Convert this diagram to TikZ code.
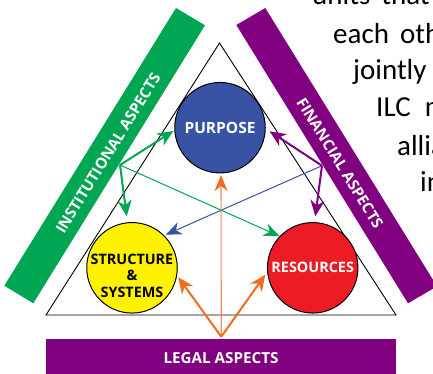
\documentclass[tikz,border=0pt]{standalone}
\usepackage{fontspec}
\setmainfont{Open Sans}
\newfontfamily\bodyfont{Carlito}
\usetikzlibrary{arrows.meta}
\definecolor{bandgreen}{HTML}{00A651}
\definecolor{bandpurple}{HTML}{800080}
\definecolor{discblue}{HTML}{3953A4}
\definecolor{discyellow}{HTML}{FFF200}
\definecolor{discred}{HTML}{ED1C24}
\definecolor{arroworange}{HTML}{F26B22}
\definecolor{thinorange}{HTML}{F58B5A}
\tikzset{
  x=1pt,y=-1pt,
  disc/.style={circle,draw=black,line width=1pt,minimum size=90.5pt,inner sep=0pt,font=\bfseries\fontsize{14.4}{16.5}\selectfont,align=center},
  bandtext/.style={text=white,font=\bfseries\fontsize{15.2}{17}\selectfont,inner sep=0pt},
  bodytext/.style={anchor=base west,inner sep=0pt,font=\fontsize{29}{34}\selectfont\bodyfont,text=black},
  thick arrow/.style={line width=2pt,-{Stealth[length=16pt,width=14pt,inset=5pt]}},
  thin arrow/.style={line width=1pt,-{Stealth[length=16pt,width=13pt,inset=5pt]}},
}
\begin{document}
\begin{tikzpicture}
\useasboundingbox (0,0) rectangle (433,374);
\begin{scope}
\clip (0,0) rectangle (433,374);
\node[bodytext] (l1) at (312,5) {units\hspace{11pt}that\hspace{11pt}a};
\node[bodytext] (l2) at (333,44) {each\hspace{11pt}other};
\node[bodytext] (l3) at (353,80) {jointly};
\node[bodytext] (l4) at (376,117) {ILC\hspace{14pt}n};
\node[bodytext] (l5) at (397,156) {allia};
\node[bodytext] (l6) at (420,191) {in};
\fill[bandgreen] (176,8) -- (205,25.3) -- (33.3,303.3) -- (4.3,285.7) -- cycle;
\fill[bandpurple] (236.3,25) -- (265.3,8) -- (437,286.3) -- (408,303.3) -- cycle;
\end{scope}
\fill[bandpurple] (46,339) rectangle (396,374);
\node[bandtext,rotate=58.3] (inst) at (108,153) {INSTITUTIONAL ASPECTS};
\node[bandtext,rotate=-58.3] (fin) at (340,163) {FINANCIAL ASPECTS};
\node[bandtext] (legal) at (221,358) {LEGAL ASPECTS};
\coordinate (apex) at (219.5,43);
\coordinate (left) at (46,315);
\coordinate (right) at (396,315);
\draw[line width=0.9pt,line join=miter] (apex) -- (right) -- (left) -- cycle;
\node[disc,fill=discblue,text=white,font=\bfseries\fontsize{15.5}{17}\selectfont] (purpose) at (220,127.7) {PURPOSE};
\node[disc,fill=discyellow] (structure) at (132,267.8) {};
\node[inner sep=0pt,align=center,font=\bfseries\fontsize{14.4}{16.5}\selectfont,text=black] (structurelabel) at (132,275.5) {STRUCTURE\\\&\\SYSTEMS};
\node[disc,fill=discred,text=white] (resources) at (312.7,267.8) {RESOURCES};
\coordinate (go) at (120,165);
\coordinate (po) at (322,165.7);
\coordinate (oo) at (221.3,336.7);
\coordinate (gp) at (173.3,131);
\coordinate (gs) at (126.7,216.3);
\coordinate (gr) at (279.7,236.3);
\coordinate (pp) at (269.7,131.3);
\coordinate (pr) at (315.3,216.3);
\coordinate (bs) at (165.7,234.7);
\coordinate (op) at (221,175);
\coordinate (os) at (178.3,277.3);
\coordinate (or) at (265.3,274.7);
\draw[thin arrow,bandgreen] (go) -- (gr);
\draw[thin arrow,discblue] (po) -- (bs);
\draw[line width=1.1pt,thinorange,-{Stealth[length=16pt,width=13pt,inset=5pt,color=arroworange,fill=arroworange]}] (oo) -- (op);
\draw[thick arrow,bandgreen] (go) -- (gp);
\draw[thick arrow,bandgreen] (go) -- (gs);
\draw[thick arrow,bandpurple] (po) -- (pp);
\draw[thick arrow,bandpurple] (po) -- (pr);
\draw[thick arrow,arroworange] (oo) -- (os);
\draw[thick arrow,arroworange] (oo) -- (or);
\end{tikzpicture}
\end{document}
